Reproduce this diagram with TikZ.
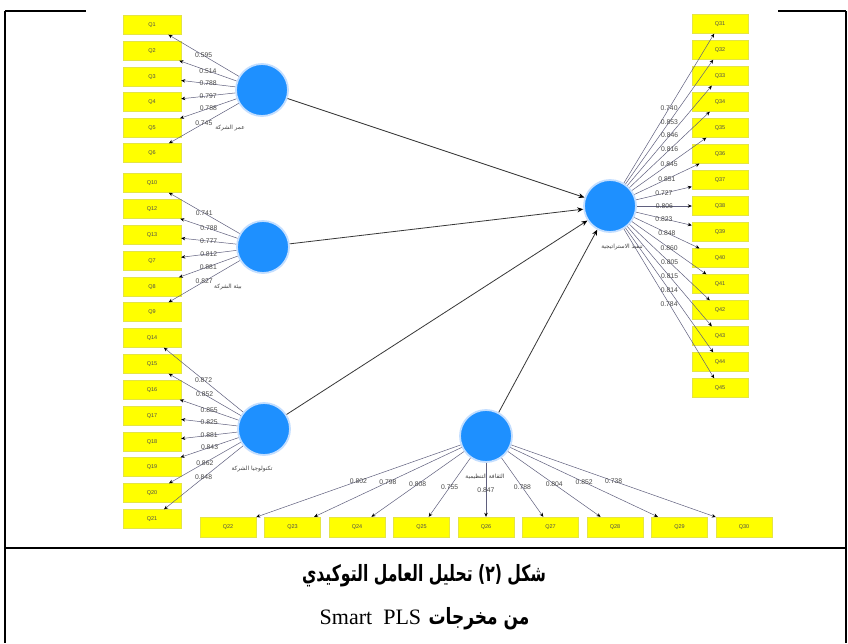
\documentclass[tikz,border=0pt]{standalone}
\usepackage{fontspec}
\setmainfont{Liberation Sans}
\newfontfamily\arabicfont[Script=Arabic]{DejaVu Sans}
\newfontfamily\seriffont{Liberation Serif}
\TeXXeTstate=1
\usetikzlibrary{arrows.meta}

\definecolor{lvblue}{RGB}{30,144,255}
\definecolor{lvhalo}{RGB}{195,222,255}
\definecolor{mvyellow}{RGB}{255,255,0}
\definecolor{mvedge}{RGB}{228,228,70}
\definecolor{loadline}{RGB}{95,95,125}
\definecolor{pathline}{RGB}{55,55,55}

\tikzset{
 ind/.style={rectangle, fill=mvyellow, draw=mvedge, line width=0.4pt, minimum width=58pt, minimum height=19pt, inner sep=0pt, font=\fontsize{5.5}{5.5}\selectfont, text=black!70},
 indr/.style={ind, minimum width=56pt},
 indb/.style={ind, minimum width=56pt, minimum height=20pt},
 lv/.style={circle, fill=lvblue, draw=lvhalo, line width=1.8pt, minimum size=52pt, inner sep=0pt},
 lvname/.style={font=\arabicfont\fontsize{5.8}{5.8}\selectfont, text=black!75, inner sep=0pt},
 load/.style={draw=loadline, line width=0.5pt, -{Stealth[length=4pt,width=3.5pt,color=black]}},
 ldlab/.style={font=\fontsize{6.8}{6.8}\selectfont, text=black!72, inner sep=0.5pt},
 pathar/.style={draw=pathline, line width=0.8pt, -{Stealth[length=6pt,width=5pt,color=black]}},
 frame/.style={line width=1.5pt, draw=black},
 captxt/.style={inner sep=0pt},
}

\begin{document}
\begin{tikzpicture}[x=1pt,y=-1pt]
\useasboundingbox (0,0) rectangle (848,643);
\fill[white] (0,0) rectangle (848,643);

% frame
\draw[frame] (5,11) -- (86,11);
\draw[frame] (778,11) -- (846,11);
\draw[frame] (5,11) -- (5,643);
\draw[frame] (846,11) -- (846,643);
\draw[frame] (5,548) -- (846,548);

% latent variables
\node[lv] (c1) at (262,90) {};
\node[lv] (c2) at (263,247) {};
\node[lv] (c3) at (264,429) {};
\node[lv] (c4) at (486,436) {};
\node[lv] (c5) at (610,206) {};

\node[lvname] (n1) at (230,128) {\beginR عمر الشركة\endR};
\node[lvname] (n2) at (228,287) {\beginR بيئة الشركة\endR};
\node[lvname] (n3) at (252,469) {\beginR تكنولوجيا الشركة\endR};
\node[lvname] (n4) at (485,477) {\beginR الثقافة التنظيمية\endR};
\node[lvname] (n5) at (622,247) {\beginR تنفيذ الاستراتيجية\endR};

% left indicators
\foreach \n/\y in {1/25,2/51,3/77,4/102,5/128,6/153,10/183,12/209,13/235,7/261,8/287,9/312,14/338,15/364,16/390,17/416,18/442,19/467,20/493,21/519}
  \node[ind] (q\n) at (152,\y) {Q\n};

% right indicators
\foreach \n [evaluate=\n as \y using {24+26*(\n-31)}] in {31,...,45}
  \node[indr] (q\n) at (720,\y) {Q\n};

% bottom indicators
\foreach \n [evaluate=\n as \x using {228+64.5*(\n-22)}] in {22,...,30}
  \node[indb] (q\n) at (\x,527) {Q\n};

% loadings
\foreach \n/\v in {1/0.595,2/0.514,3/0.788,4/0.797,5/0.788,6/0.745}
  \draw[load] (c1) -- node[ldlab]{\v} (q\n);
\foreach \n/\v in {10/0.741,12/0.788,13/0.777,7/0.812,8/0.881,9/0.827}
  \draw[load] (c2) -- node[ldlab]{\v} (q\n);
\foreach \n/\v in {14/0.872,15/0.852,16/0.855,17/0.825,18/0.881,19/0.843,20/0.862,21/0.848}
  \draw[load] (c3) -- node[ldlab]{\v} (q\n);
\foreach \n/\v in {22/0.802,23/0.798,24/0.808,25/0.755,26/0.847,27/0.788,28/0.804,29/0.852,30/0.738}
  \draw[load] (c4) -- node[ldlab]{\v} (q\n);
\foreach \n/\v in {31/0.740,32/0.853,33/0.846,34/0.816,35/0.845,36/0.851,37/0.727,38/0.806,39/0.823,40/0.848,41/0.860,42/0.805,43/0.815,44/0.814,45/0.784}
  \draw[load] (c5) -- node[ldlab]{\v} (q\n);

% structural paths
\draw[pathar] (c1) -- (c5);
\draw[pathar] (c2) -- (c5);
\draw[pathar] (c3) -- (c5);
\draw[pathar] (c4) -- (c5);

% caption
\node[captxt] (cap1) at (424,576) {\scalebox{0.92}[1.32]{\arabicfont\bfseries\fontsize{17}{17}\selectfont\beginR شكل (٢) تحليل العامل التوكيدي\endR}};
\node[captxt] (cap2a) at (479,619) {\scalebox{1}[1.32]{\arabicfont\bfseries\fontsize{17}{17}\selectfont\beginR من مخرجات\endR}};
\node[captxt, anchor=base east] (cap2b) at ([xshift=-7pt]cap2a.base west) {\seriffont\fontsize{22}{22}\selectfont Smart\ \ PLS};
\end{tikzpicture}
\end{document}
